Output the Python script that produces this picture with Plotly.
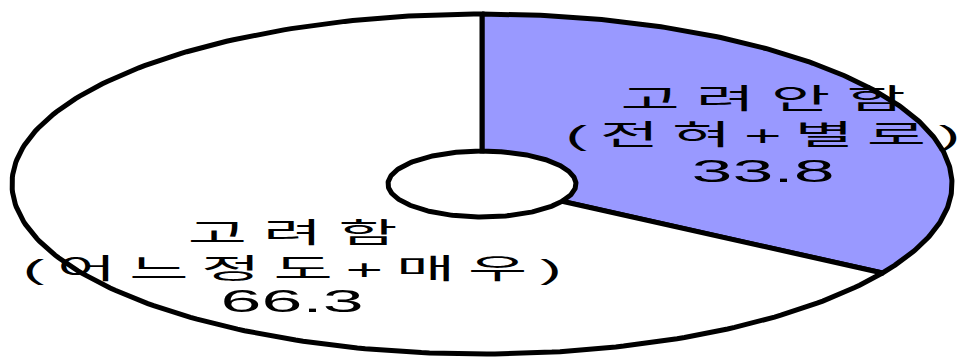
import numpy as np
import plotly.graph_objects as go

# Data
categories = ["고려안함", "고려함"]
subtitles = ["(전혀+별로)", "(어느정도+매우)"]
values = [33.8, 66.3]
colors = ["#9999FF", "#FFFFFF"]

W, H = 964, 359
cx, cy = 482, 184
A, B = 470, 170      # outer ellipse semi-axes (px)
ha, hb = 94, 33      # hole semi-axes (px)

total = sum(values)
fig = go.Figure()

start = 0.0  # fraction, clockwise from 12 o'clock
for v, col in zip(values, colors):
    f0 = start
    f1 = start + v / total
    t = np.linspace(f0, f1, 240)
    ang = np.pi / 2 - 2 * np.pi * t
    ox = cx + A * np.cos(ang)
    oy = cy - B * np.sin(ang)
    ix = cx + ha * np.cos(ang[::-1])
    iy = cy - hb * np.sin(ang[::-1])
    xs = np.concatenate([ox, ix, ox[:1]])
    ys = np.concatenate([oy, iy, oy[:1]])
    fig.add_trace(go.Scatter(x=xs, y=ys, mode="lines", fill="toself",
                             fillcolor=col, line=dict(color="black", width=5),
                             hoverinfo="skip", showlegend=False))
    start = f1

def spaced(s, sep):
    return sep.join(list(s))

family = "Liberation Sans, Noto Sans CJK KR"
line_sizes = [28, 28, 32]

# label layout: (x center, [y per line], [separator per line])
label_layout = [
    (763, [99, 135, 171], ["\u2005", "\u2009", ""]),
    (292, [233, 269, 301], ["\u2005", "\u2009", ""]),
]
for cat, sub, v, (x, ys, seps) in zip(categories, subtitles, values, label_layout):
    lines = [cat, sub, f"{v:.1f}"]
    for line, y, sep, fs in zip(lines, ys, seps, line_sizes):
        fig.add_annotation(x=x, y=y, text=spaced(line, sep), showarrow=False,
                           font=dict(size=fs, color="black", family=family),
                           xanchor="center", yanchor="middle")

fig.update_layout(width=W, height=H, margin=dict(l=0, r=0, t=0, b=0),
                  paper_bgcolor="white", plot_bgcolor="white",
                  xaxis=dict(range=[0, W], visible=False, fixedrange=True),
                  yaxis=dict(range=[H, 0], visible=False, fixedrange=True))

post = """
document.body.style.margin='0';document.body.style.padding='0';
document.querySelectorAll('.annotation-text').forEach(function(t){
  t.style.transformBox='fill-box';
  t.style.transformOrigin='center';
  t.style.transform='scaleX(2.3)';
});
"""
fig.write_html("out.html", post_script=post, config={"displayModeBar": False})
